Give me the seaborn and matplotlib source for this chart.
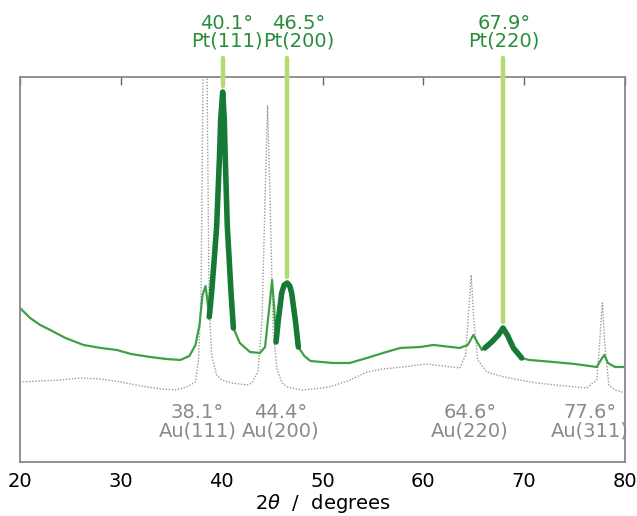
import numpy as np
import pandas as pd
import matplotlib
matplotlib.use("Agg")
import matplotlib.pyplot as plt
import seaborn as sns

# Au reference pattern (gray dotted), 2theta in degrees, intensity in arb. units
au_2theta = [20, 22, 24, 26, 28, 30, 32, 34, 35.5, 36.5, 37.4, 37.7, 37.95, 38.15, 38.35,
             38.55, 38.75, 39.0, 39.5, 40, 41, 42.5, 43.0, 43.6, 44.0, 44.3, 44.55, 44.8,
             45.1, 45.5, 46.0, 46.5, 48, 50, 51, 52.5, 54.4, 56, 58, 60.3, 62, 63.6, 64.2,
             64.5, 64.75, 65.0, 65.4, 66.3, 68, 71.2, 74, 76.2, 77.2, 77.5, 77.75, 78.0,
             78.4, 79, 80]
au_counts = [80, 81, 82, 84, 83, 80, 76, 73, 72, 75, 80, 102, 162, 385, 422,
             385, 162, 107, 87, 82, 79, 77, 79, 90, 142, 262, 356, 262,
             132, 92, 79, 75, 72, 74, 76, 81, 90, 93, 95, 98, 96, 94, 107,
             152, 187, 142, 102, 90, 85, 79, 76, 74, 82, 122, 159, 117,
             77, 72, 69]

# Pt film on Au (green)
pt_2theta = [20, 21, 22, 23, 24.5, 26.3, 28, 29.6, 31, 32.9, 34.5, 35.9, 36.8, 37.4, 37.8,
             38.1, 38.4, 38.6, 38.77, 39.0, 39.24, 39.5, 39.77, 39.9, 40.1, 40.26, 40.36,
             40.56, 40.76, 40.93, 41.16,
             41.8, 42.8, 43.8, 44.3, 44.73, 45.0, 45.2, 45.39, 45.62, 45.95, 46.2, 46.5,
             46.75, 46.94, 47.34, 47.6, 48.2, 48.8, 51, 52.7, 54.4, 56, 57.7, 59.7, 61,
             63.6, 64.4, 64.96, 65.4, 65.8, 66.1, 66.78, 67.44, 67.9, 68.33, 68.93, 69.75,
             70.5, 72.9, 75, 77.2, 77.6, 77.95, 78.3, 79, 80]
pt_counts = [154, 144, 137, 132, 124, 117, 114, 112, 108, 105, 103, 102, 106, 117, 137,
             167, 176, 160, 145, 169, 200, 235, 302, 342, 370, 342, 302,
             235, 200, 169, 134,
             119, 110, 109, 115, 155, 182, 155, 120, 142, 169, 177, 179,
             176, 169, 139, 115, 106, 101, 99, 99, 104, 109, 114, 115, 117,
             114, 117, 127, 119, 112, 114, 120, 127, 134, 127, 114, 104,
             102, 100, 98, 95, 102, 107, 99, 95, 95]

# Pt reflections: peak position, fitted range, label
pt_peaks = [40.1, 46.5, 67.9]
pt_peak_heights = [370, 179, 134]
pt_ranges = [(38.77, 41.16), (45.39, 47.6), (66.1, 69.75)]
pt_names = ["Pt(111)", "Pt(200)", "Pt(220)"]

# Au reflections
au_peaks = [38.1, 44.4, 64.6, 77.6]
au_names = ["Au(111)", "Au(200)", "Au(220)", "Au(311)"]

# label x positions (layout only)
pt_label_x = [40.5, 47.6, 68.0]
au_label_x = [37.6, 45.8, 64.6, 76.5]

sns.set_style("white")
plt.rcParams['font.family'] = ['DejaVu Sans']

au_df = pd.DataFrame({"two_theta": au_2theta, "counts": au_counts})
pt_df = pd.DataFrame({"two_theta": pt_2theta, "counts": pt_counts})

fig = plt.figure(figsize=(6.37, 5.16), dpi=100)
ax = fig.add_axes([0.0314, 0.1047, 0.9498, 0.7461])

thin_green = "#3f9f45"
dark_green = "#167a36"
light_green = "#b4db72"
label_green = "#2a8c3a"
gray = "#8a8a8a"

sns.lineplot(data=au_df, x="two_theta", y="counts", ax=ax, color="#9a9a9a",
             linestyle=(0, (1, 1.2)), linewidth=1.0)
sns.lineplot(data=pt_df, x="two_theta", y="counts", ax=ax, color=thin_green,
             linewidth=1.6)

# thick segments over the Pt reflections
for lo, hi in pt_ranges:
    seg = pt_df[(pt_df["two_theta"] >= lo) & (pt_df["two_theta"] <= hi)]
    sns.lineplot(data=seg, x="two_theta", y="counts", ax=ax, color=dark_green,
                 linewidth=4.0, solid_capstyle="round")

ax.set_xlim(20, 80)
ax.set_ylim(0, 385)

# marker lines from the Pt peaks up to the labels
for pk, h, name, lx in zip(pt_peaks, pt_peak_heights, pt_names, pt_label_x):
    ax.plot([pk, pk], [h + 6, 404], color=light_green, linewidth=3.2,
            solid_capstyle="round", clip_on=False, zorder=5)
    ax.text(lx, 411, f"{pk}°\n{name}", ha="center", va="bottom", fontsize=14,
            color=label_green, linespacing=0.95, clip_on=False)

for pk, name, lx in zip(au_peaks, au_names, au_label_x):
    ax.text(lx, 40, f"{pk}°\n{name}", ha="center", va="center", fontsize=14,
            color=gray, linespacing=0.95)

ax.set_xticks([20, 30, 40, 50, 60, 70, 80])
ax.set_yticks([])
ax.tick_params(axis="x", direction="in", top=True, length=6, width=1,
               color="#666666", labelcolor="black", labelsize=14, pad=7)
for sp in ax.spines.values():
    sp.set_color("#888888")
    sp.set_linewidth(1.3)

ax.set_xlabel(r"2$\theta$  /  degrees", fontsize=14, labelpad=1, color="black")
ax.set_ylabel("")

fig.savefig("out.png", dpi=100)
